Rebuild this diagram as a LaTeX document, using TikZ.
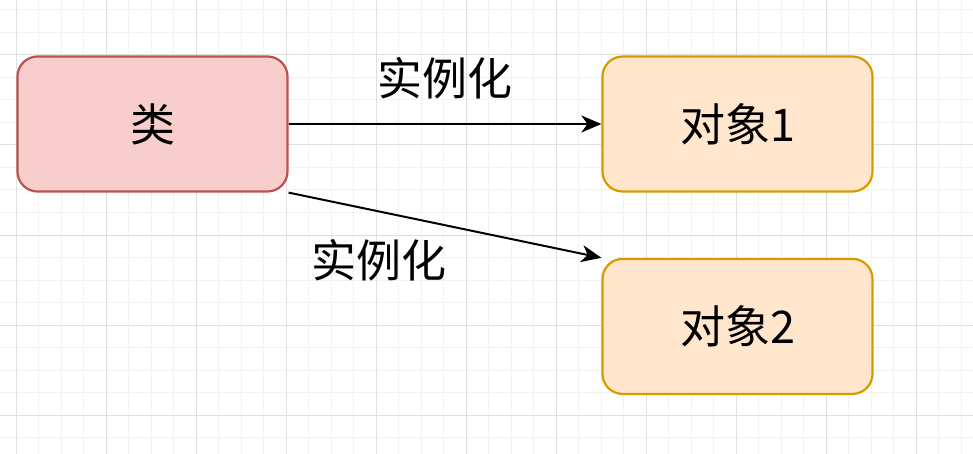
\documentclass[tikz,border=0pt]{standalone}
\usepackage{fontspec}
\newfontfamily\cjkfont{Noto Sans CJK SC}
\usetikzlibrary{positioning, arrows.meta}
\definecolor{cClassFill}{HTML}{F8CECC}
\definecolor{cClassLine}{HTML}{B85450}
\definecolor{cObjFill}{HTML}{FFE6CC}
\definecolor{cObjLine}{HTML}{D79B00}
\definecolor{cGridMajor}{HTML}{E0E0E0}
\definecolor{cGridMinor}{HTML}{F2F2F2}
\tikzset{
  classbox/.style={
    draw=cClassLine, fill=cClassFill, rounded corners=10pt, line width=1.1pt,
    minimum width=135pt, minimum height=67.5pt, inner sep=0pt,
    font=\cjkfont\fontsize{22.5}{27}\selectfont
  },
  objbox/.style={
    draw=cObjLine, fill=cObjFill, rounded corners=10pt, line width=1.1pt,
    minimum width=135pt, minimum height=67.5pt, inner sep=0pt,
    font=\cjkfont\fontsize{22.5}{27}\selectfont
  },
  instarrow/.style={
    -{Stealth[length=10pt, width=8.5pt, inset=3pt]}, line width=1pt, color=black
  },
  instlabel/.style={
    font=\cjkfont\fontsize{22.5}{27}\selectfont, inner sep=0pt
  },
}

\begin{document}
\begin{tikzpicture}[x=0.5pt, y=-0.5pt]
\useasboundingbox (0,0) rectangle (973,454);

% ---- grid ----
\foreach \i in {0,...,42}
  \draw[cGridMinor, line width=0.5pt] (16+22.5*\i,0) -- (16+22.5*\i,454);
\foreach \j in {-2,...,17}
  \draw[cGridMinor, line width=0.5pt] (0,55+22.5*\j) -- (973,55+22.5*\j);
\foreach \i in {0,...,10}
  \draw[cGridMajor, line width=0.5pt] (16+90*\i,0) -- (16+90*\i,454);
\foreach \j in {0,...,4}
  \draw[cGridMajor, line width=0.5pt] (0,55+90*\j) -- (973,55+90*\j);

% ---- class and objects ----
\node[classbox] (cls) at (152.5,124) {类};
\node[objbox, right=156.4pt of cls] (obj1) {对象1};
\node[objbox, below=32.6pt of obj1] (obj2) {对象2};

% ---- instantiation ----
\draw[instarrow] (cls.east) -- (obj1.west)
  node[instlabel, midway, yshift=23pt] {实例化};
\draw[instarrow] (cls.south east) -- (obj2.north west)
  node[instlabel, pos=0.29, yshift=-24.5pt] {实例化};

\end{tikzpicture}
\end{document}
